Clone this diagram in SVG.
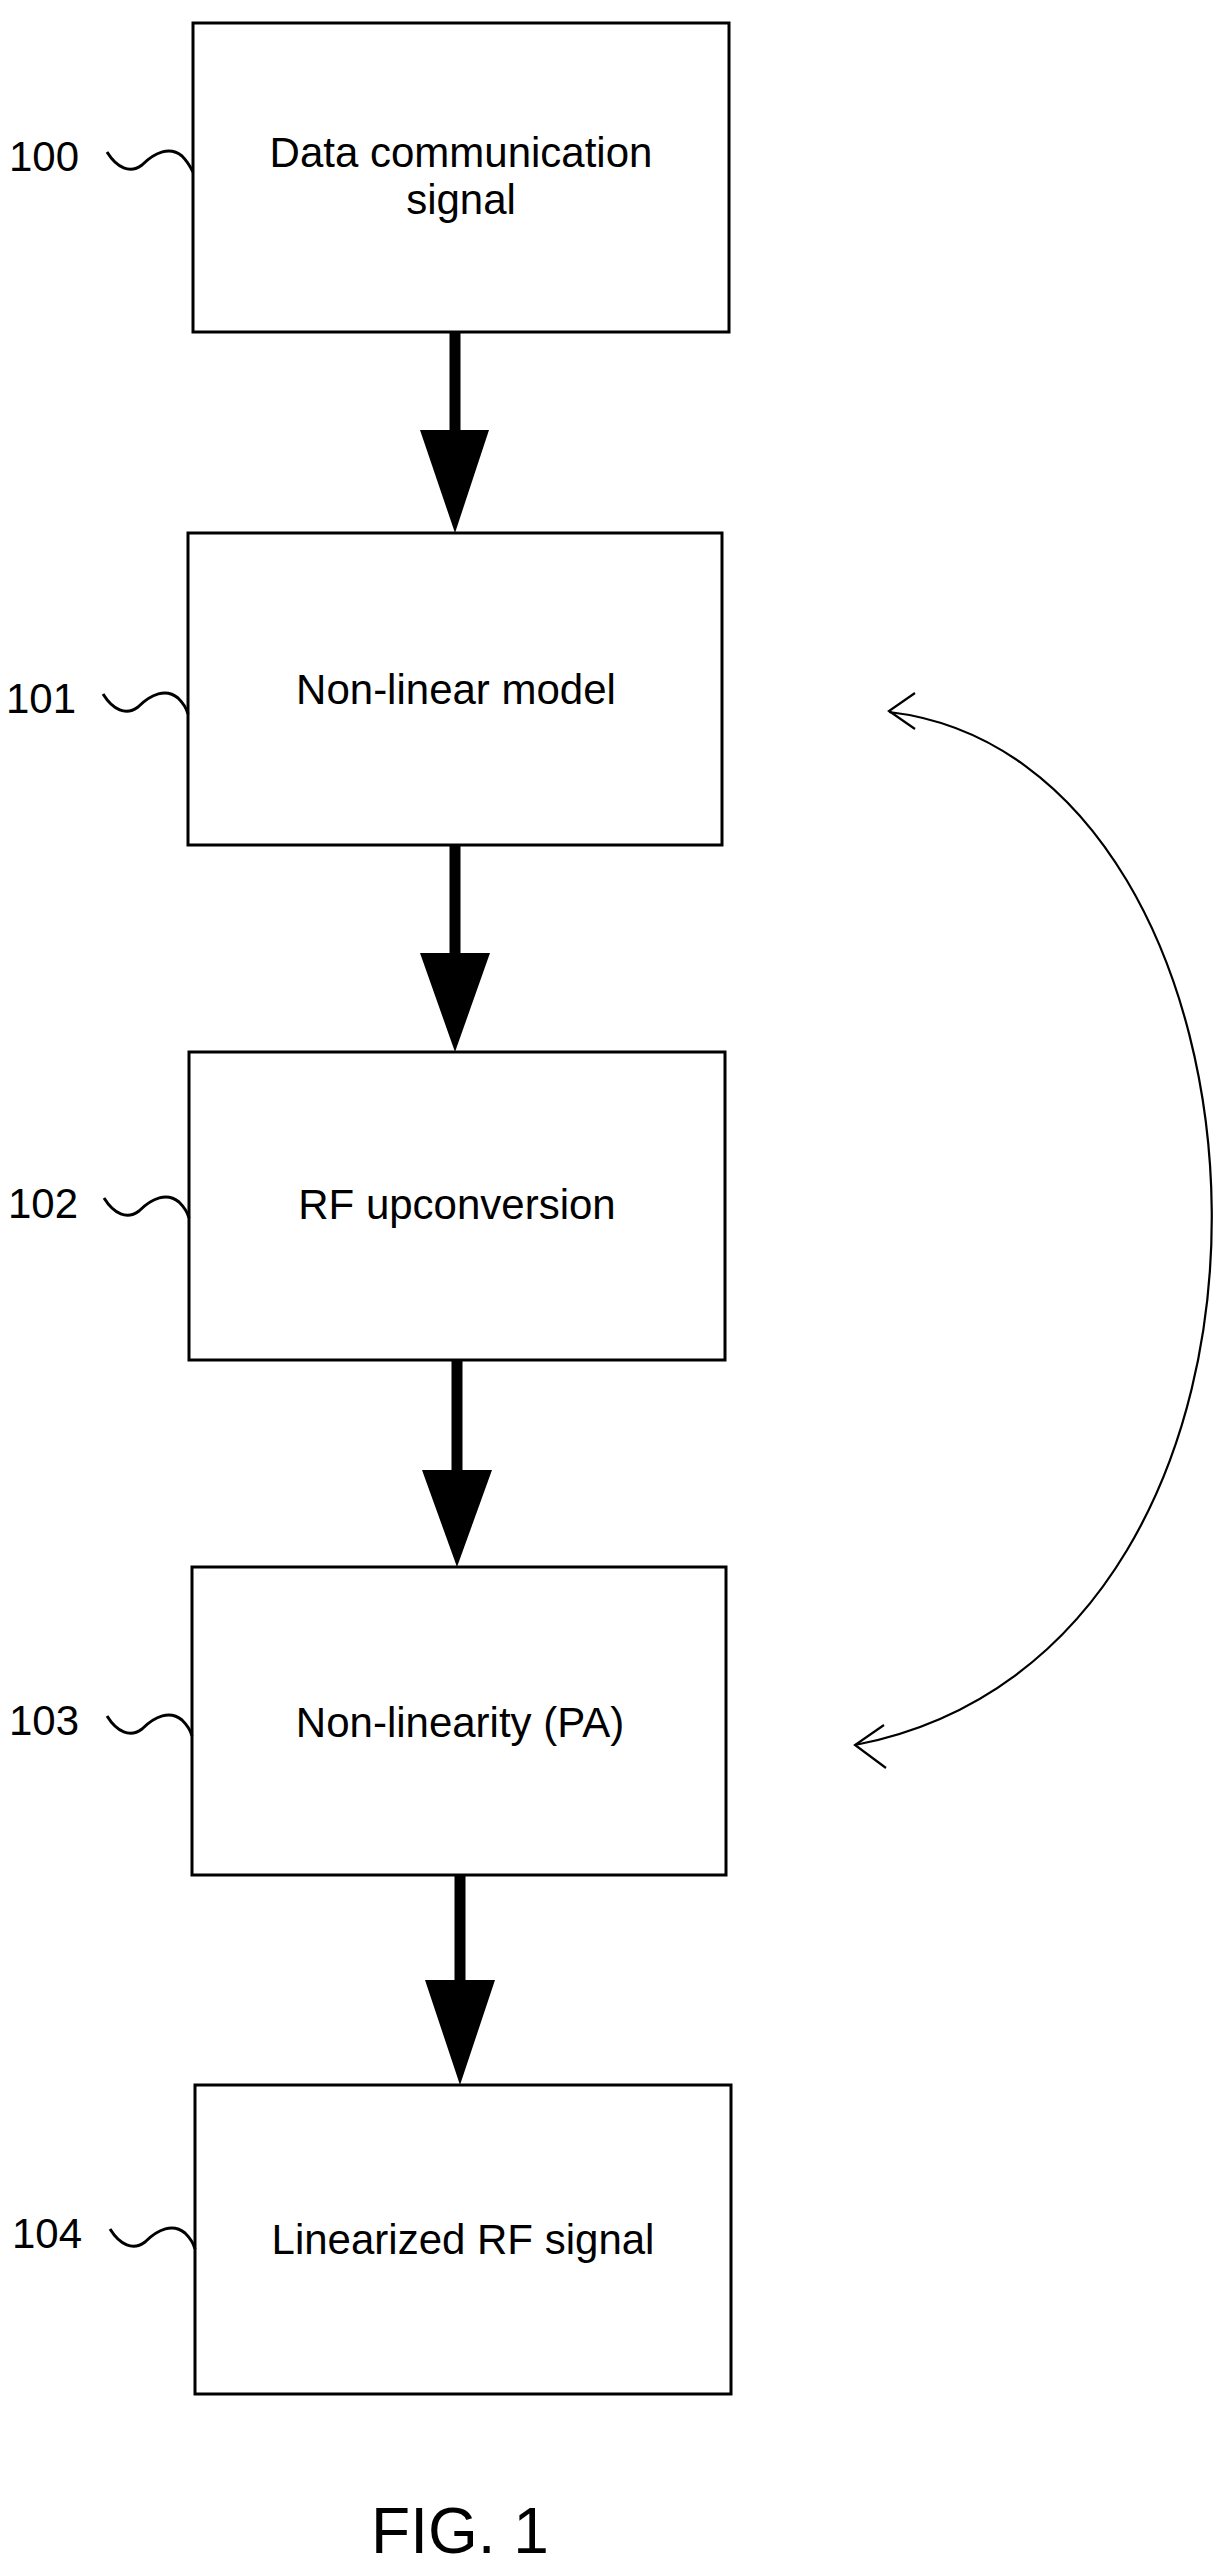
<svg xmlns="http://www.w3.org/2000/svg" width="1232" height="2571" viewBox="0 0 1232 2571">
<style>
.box{fill:#fff;stroke:#000;stroke-width:3}
.t{font-family:"Liberation Sans",Arial,sans-serif;font-size:42px;fill:#000;text-anchor:middle}
.n{font-family:"Liberation Sans",Arial,sans-serif;font-size:42px;fill:#000}
.sq{fill:none;stroke:#000;stroke-width:3}
.sh{stroke:#000;stroke-width:11}
.thin{fill:none;stroke:#000;stroke-width:2.2}
</style>
<rect width="1232" height="2571" fill="#fff"/>
<g id="n100"><rect class="box" x="193" y="23" width="536" height="309"/><text class="t" x="461" y="167">Data communication</text><text class="t" x="461" y="214">signal</text><text class="n" x="9" y="171">100</text><path class="sq" d="M107 152 C117 168 130 174 142 165 C155 152 170 146 182 156 C188 162 191 168 193 172"/></g>
<g id="n101"><rect class="box" x="188" y="533" width="534" height="312"/><text class="t" x="456" y="704">Non-linear model</text><text class="n" x="6" y="713">101</text><path class="sq" d="M103 694 C113 710 126 716 138 707 C151 694 166 688 178 698 C184 704 187 710 188 714"/></g>
<g id="n102"><rect class="box" x="189" y="1052" width="536" height="308"/><text class="t" x="457" y="1219">RF upconversion</text><text class="n" x="8" y="1218">102</text><path class="sq" d="M104 1198 C114 1214 127 1220 139 1211 C152 1198 167 1192 179 1202 C185 1208 188 1214 189 1218"/></g>
<g id="n103"><rect class="box" x="192" y="1567" width="534" height="308"/><text class="t" x="460" y="1737">Non-linearity (PA)</text><text class="n" x="9" y="1735">103</text><path class="sq" d="M107 1716 C117 1732 130 1738 142 1729 C155 1716 170 1710 182 1720 C188 1726 191 1732 192 1736"/></g>
<g id="n104"><rect class="box" x="195" y="2085" width="536" height="309"/><text class="t" x="463" y="2254">Linearized RF signal</text><text class="n" x="12" y="2248">104</text><path class="sq" d="M110 2229 C120 2245 133 2251 145 2242 C158 2229 173 2223 185 2233 C191 2239 194 2245 195 2249"/></g>
<g id="connectors">
<line class="sh" x1="455" y1="332" x2="455" y2="432"/><polygon points="420,430 489,430 455,533"/>
<line class="sh" x1="455" y1="845" x2="455" y2="955"/><polygon points="420,953 490,953 455,1052"/>
<line class="sh" x1="457" y1="1360" x2="457" y2="1472"/><polygon points="422,1470 492,1470 457,1567"/>
<line class="sh" x1="460" y1="1875" x2="460" y2="1982"/><polygon points="425,1980 495,1980 460,2085"/>
<path class="thin" d="M889 712 C1300 760 1350 1650 855 1745"/>
<path class="thin" d="M915 693 L889 711 L915 729"/>
<path class="thin" d="M884 1725 L855 1745 L886 1768"/>
</g>
<text class="t" x="460" y="2553" style="font-size:64px">FIG. 1</text>
</svg>
